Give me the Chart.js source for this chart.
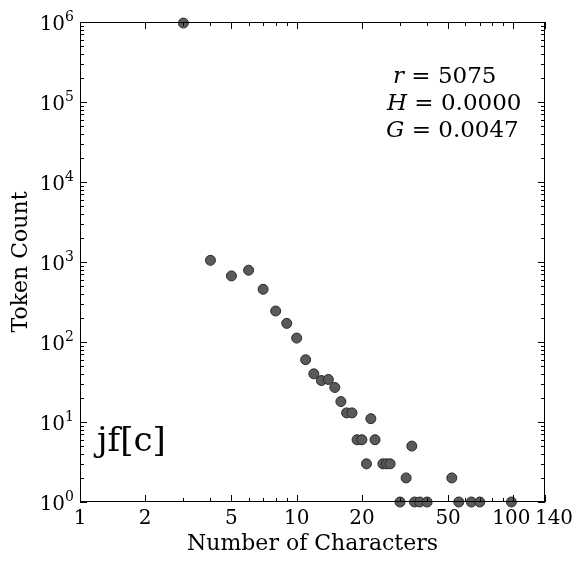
<!DOCTYPE html>
<html>
<head>
<meta charset="utf-8">
<script src="https://cdn.jsdelivr.net/npm/chart.js@4.4.0/dist/chart.umd.min.js"></script>
<style>
  body { margin: 0; background: #fff; }
  canvas { display: block; }
</style>
</head>
<body>
<canvas id="zipf" width="583" height="564"></canvas>
<script>
// number of characters per token type, and how many tokens had that length
const lengths = [3, 4, 5, 6, 7, 8, 9, 10, 11, 12, 13, 14, 15, 16, 17, 18, 19, 20, 21, 22,
                 23, 25, 26, 27, 30, 32, 34, 35, 37, 40, 52, 56, 64, 70, 98];
const counts = [970000, 1050, 670, 790, 456, 244, 171, 112, 60, 40, 33, 34, 27, 18, 13, 13, 6, 6, 3, 11,
                6, 3, 3, 3, 1, 2, 5, 1, 1, 1, 2, 1, 1, 1, 1];

const xTicks = [1, 2, 5, 10, 20, 50, 100, 140];
const xMinor = [3, 4, 6, 7, 8, 9, 30, 40, 60, 70, 80, 90];
const yTicks = [1, 10, 100, 1000, 10000, 100000, 1000000];
const yMinor = [2, 3, 4, 5, 6, 7, 8, 9];

const stats = [
  ['r', ' = 5075'],
  ['H', ' = 0.0000'],
  ['G', ' = 0.0047'],
];
const panelLabel = 'jf[c]';
const xTitle = 'Number of Characters';
const yTitle = 'Token Count';

const SERIF = '"DejaVu Serif", serif';

// matplotlib-style frame: inward ticks on all four sides, labels, titles
const frame = {
  id: 'frame',
  afterDatasetsDraw(chart) {
    const { ctx, chartArea: a, scales: { x, y } } = chart;
    ctx.save();
    ctx.strokeStyle = '#000';
    ctx.lineWidth = 1;
    ctx.strokeRect(a.left + 0.5, a.top + 0.5, a.right - a.left - 1, a.bottom - a.top - 1);

    const tick = (px, len, vertical) => {
      ctx.beginPath();
      if (vertical) {
        ctx.moveTo(px, a.bottom); ctx.lineTo(px, a.bottom - len);
        ctx.moveTo(px, a.top); ctx.lineTo(px, a.top + len);
      } else {
        ctx.moveTo(a.left, px); ctx.lineTo(a.left + len, px);
        ctx.moveTo(a.right, px); ctx.lineTo(a.right - len, px);
      }
      ctx.stroke();
    };
    xTicks.forEach(v => tick(Math.round(x.getPixelForValue(v)) + 0.5, 7, true));
    xMinor.forEach(v => tick(Math.round(x.getPixelForValue(v)) + 0.5, 4, true));
    yTicks.forEach(v => tick(Math.round(y.getPixelForValue(v)) + 0.5, 7, false));
    yTicks.slice(0, -1).forEach(d => yMinor.forEach(m => tick(Math.round(y.getPixelForValue(d * m)) + 0.5, 4, false)));

    ctx.fillStyle = '#000';
    // x tick labels
    ctx.font = '20px ' + SERIF;
    ctx.textAlign = 'center';
    ctx.textBaseline = 'alphabetic';
    xTicks.forEach(v => {
      const shift = v === 140 ? 9 : (v === 100 ? -2 : 0);
      ctx.fillText(String(v), x.getPixelForValue(v) + shift, a.bottom + 22);
    });
    // y tick labels 10^n
    yTicks.forEach((v, i) => {
      const py = y.getPixelForValue(v);
      ctx.font = '14px ' + SERIF;
      const ew = ctx.measureText(String(i)).width;
      ctx.textAlign = 'right';
      ctx.fillText(String(i), a.left - 6, py - 1);
      ctx.font = '20px ' + SERIF;
      ctx.fillText('10', a.left - 6 - ew, py + 8);
    });

    // axis titles
    ctx.font = '22px ' + SERIF;
    ctx.textAlign = 'center';
    ctx.fillText(xTitle, (a.left + a.right) / 2, 550);
    ctx.save();
    ctx.translate(27, (a.top + a.bottom) / 2);
    ctx.rotate(-Math.PI / 2);
    ctx.fillText(yTitle, 0, 0);
    ctx.restore();

    // statistics block
    const lefts = [393, 387, 386];
    stats.forEach(([sym, rest], i) => {
      const base = 83 + i * 27;
      ctx.textAlign = 'left';
      ctx.font = 'italic 23px ' + SERIF;
      ctx.fillText(sym, lefts[i], base);
      const w = ctx.measureText(sym).width;
      ctx.font = '23px ' + SERIF;
      ctx.fillText(rest, lefts[i] + w, base);
    });

    // panel label
    ctx.font = '34px ' + SERIF;
    ctx.textAlign = 'left';
    ctx.fillText(panelLabel, 97, 451);
    ctx.restore();
  }
};

new Chart(document.getElementById('zipf'), {
  type: 'scatter',
  data: {
    datasets: [{
      data: lengths.map((l, i) => ({ x: l, y: counts[i] })),
      backgroundColor: '#5a5a5a',
      borderColor: '#2a2a2a',
      borderWidth: 1,
      pointRadius: 5,
      pointHoverRadius: 5,
      clip: false,
    }],
  },
  options: {
    responsive: false,
    animation: false,
    devicePixelRatio: 1,
    layout: { padding: { left: 0, right: 38, top: 22, bottom: 0 } },
    scales: {
      x: {
        type: 'logarithmic',
        min: 1,
        max: 140,
        grid: { display: false },
        border: { display: false },
        ticks: { display: false },
        afterFit: s => { s.height = 62; },
      },
      y: {
        type: 'logarithmic',
        min: 1,
        max: 1000000,
        grid: { display: false },
        border: { display: false },
        ticks: { display: false },
        afterFit: s => { s.width = 80; },
      },
    },
    plugins: {
      legend: { display: false },
      tooltip: { enabled: false },
    },
  },
  plugins: [frame],
});
</script>
</body>
</html>
